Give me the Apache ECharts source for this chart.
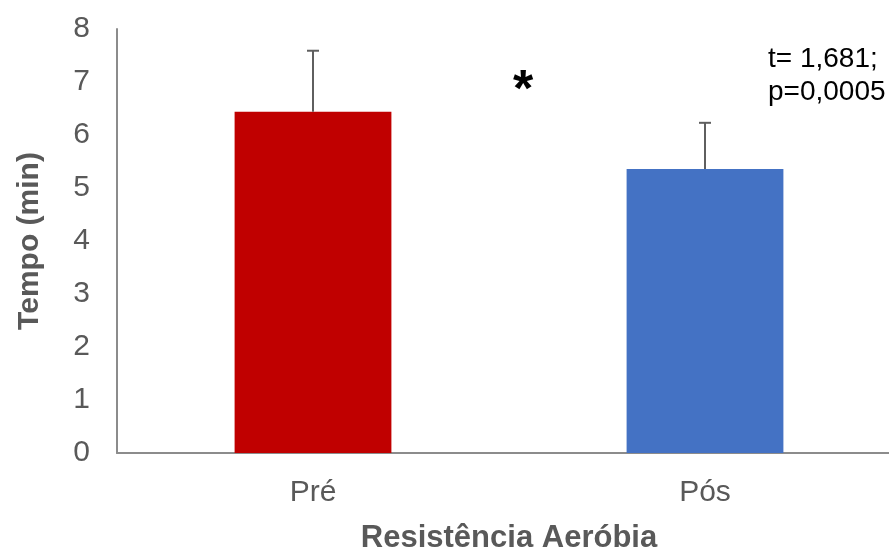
<!DOCTYPE html>
<html>
<head>
<meta charset="utf-8">
<script src="https://cdn.jsdelivr.net/npm/echarts@6/dist/echarts.min.js"></script>
<style>html,body{margin:0;padding:0;background:#fff}#c{width:889px;height:550px}</style>
</head>
<body>
<div id="c"></div>
<script>
var categories = ['Pré', 'Pós'];
var means = [6.44, 5.36];
var errors = [1.15, 0.87];
var barColors = ['#C00000', '#4472C4'];
var yTicks = [0, 1, 2, 3, 4, 5, 6, 7, 8];
var annotationLines = ['t= 1,681;', 'p=0,0005'];
var significanceMark = '*';

var chart = echarts.init(document.getElementById('c'));
var font = 'Liberation Sans, Arial, sans-serif';
chart.setOption({
  animation: false,
  backgroundColor: '#fff',
  grid: { left: 117, top: 29, width: 784, bottom: 97, containLabel: false, outerBoundsMode: 'none' },
  xAxis: {
    type: 'category',
    data: categories,
    name: 'Resistência Aeróbia',
    nameLocation: 'middle',
    nameGap: 70,
    nameTextStyle: { fontFamily: font, fontSize: 31, fontWeight: 'bold', color: '#595959' },
    axisLine: { lineStyle: { color: '#8c8c8c', width: 2 } },
    axisTick: { show: false },
    axisLabel: { fontFamily: font, fontSize: 30, color: '#595959', margin: 25 }
  },
  yAxis: {
    type: 'value',
    min: yTicks[0],
    max: yTicks[yTicks.length - 1],
    interval: 1,
    name: 'Tempo (min)',
    nameLocation: 'middle',
    nameGap: 72,
    nameRotate: 90,
    nameTextStyle: { fontFamily: font, fontSize: 30, fontWeight: 'bold', color: '#595959' },
    axisLine: { show: true, lineStyle: { color: '#8c8c8c', width: 2 } },
    axisTick: { show: false },
    splitLine: { show: false },
    axisLabel: { fontFamily: font, fontSize: 30, color: '#595959', margin: 27 }
  },
  series: [
    {
      type: 'bar',
      barWidth: '40%',
      data: means.map(function (v, i) { return { value: v, itemStyle: { color: barColors[i] } }; })
    },
    {
      type: 'custom',
      data: means.map(function (v, i) { return [i, v, v + errors[i]]; }),
      z: 10,
      renderItem: function (params, api) {
        var p0 = api.coord([api.value(0), api.value(1)]);
        var p1 = api.coord([api.value(0), api.value(2)]);
        var style = { stroke: '#5f5f5f', lineWidth: 2 };
        return {
          type: 'group',
          children: [
            { type: 'line', shape: { x1: p0[0], y1: p0[1], x2: p1[0], y2: p1[1] }, style: style },
            { type: 'line', shape: { x1: p1[0] - 6, y1: p1[1], x2: p1[0] + 6, y2: p1[1] }, style: style }
          ]
        };
      }
    }
  ],
  graphic: [
    { type: 'text', left: 768, top: 43, style: { text: annotationLines.join('\n'), fontFamily: font, fontSize: 28, lineHeight: 33, fill: '#000' } },
    { type: 'text', left: 513, top: 66, style: { text: significanceMark, fontFamily: font, fontSize: 52, fontWeight: 'bold', fill: '#000' } }
  ]
});
</script>
</body>
</html>
